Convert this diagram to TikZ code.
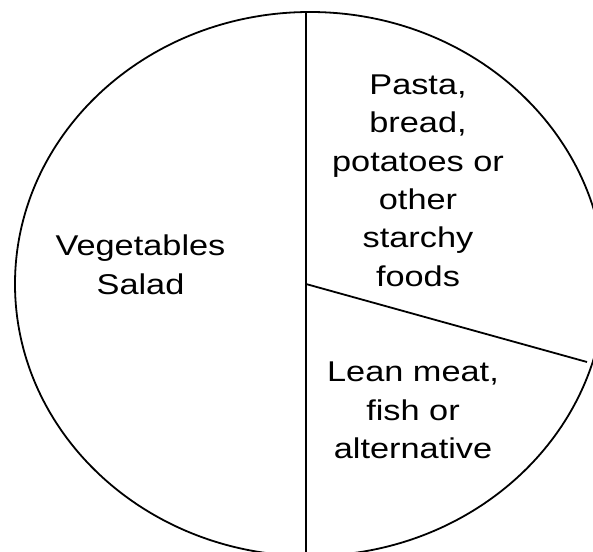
\documentclass[tikz,border=0pt]{standalone}
\usepackage{fontspec}
\setmainfont{Liberation Sans}[FakeStretch=1.2]
\tikzset{food/.style={align=center,inner sep=0pt,anchor=base,
  font=\fontsize{28.6}{38.3}\selectfont}}

\begin{document}
\begin{tikzpicture}[x=1pt,y=-1pt,line width=1.8pt]
	 \useasboundingbox (0,0) rectangle (593,551);
	 \clip (0,0) rectangle (593,551);
	 \coordinate (hub) at (306,284);
	 \coordinate (top) at (306,12);
	 \coordinate (bottom) at (306,560);
	 \coordinate (rim) at (587,362);
	 \draw (310,284) ellipse [x radius=295pt, y radius=272pt];
	 \draw (top) -- (bottom);
	 \draw (hub) -- (rim);
	 \node[food] (veg) at (140.5,294) {Vegetables\\Salad};
	 \node[food] (starch) at (418,286) {Pasta,\\bread,\\potatoes or\\other\\starchy\\foods};
	 \node[food] (meat) at (413,458.5) {Lean meat,\\fish or\\alternative};
	 \end{tikzpicture}
\end{document}
